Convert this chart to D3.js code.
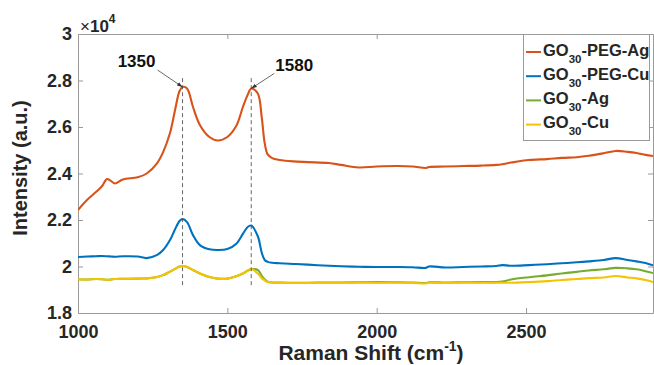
<!DOCTYPE html>
<html>
<head>
<meta charset="utf-8">
<script src="https://cdn.jsdelivr.net/npm/d3@7"></script>
<style>
  html, body { margin: 0; padding: 0; background: #fff; }
  svg { display: block; font-family: "Liberation Sans", Arial, sans-serif; }
</style>
</head>
<body>
<svg id="chart" width="654" height="365"></svg>
<script>
// Raman shift (cm^-1) sample positions
const shift = [1000, 1030, 1060, 1080, 1097, 1110, 1124, 1150, 1200, 1230, 1265, 1285, 1308, 1325, 1340, 1350, 1365, 1385, 1408, 1440, 1468, 1500, 1530, 1552, 1568, 1580, 1602, 1615, 1625, 1635, 1650, 1675, 1720, 1770, 1840, 1880, 1940, 2000, 2070, 2120, 2165, 2175, 2230, 2290, 2350, 2400, 2420, 2450, 2510, 2570, 2620, 2670, 2710, 2760, 2800, 2840, 2870, 2900, 2925];

// Intensities in units of 10^4 (a.u.)
const goPegAg = [2.243, 2.286, 2.320, 2.345, 2.376, 2.368, 2.357, 2.374, 2.384, 2.400, 2.445, 2.492, 2.574, 2.673, 2.755, 2.772, 2.766, 2.686, 2.609, 2.557, 2.542, 2.557, 2.605, 2.686, 2.738, 2.766, 2.744, 2.643, 2.531, 2.482, 2.466, 2.458, 2.452, 2.449, 2.445, 2.437, 2.426, 2.430, 2.432, 2.430, 2.424, 2.428, 2.430, 2.432, 2.434, 2.437, 2.440, 2.447, 2.458, 2.462, 2.467, 2.470, 2.476, 2.487, 2.497, 2.493, 2.488, 2.480, 2.475];
const goPegCu = [2.041, 2.043, 2.044, 2.045, 2.044, 2.043, 2.042, 2.044, 2.043, 2.036, 2.050, 2.071, 2.114, 2.160, 2.196, 2.204, 2.191, 2.135, 2.092, 2.074, 2.071, 2.075, 2.098, 2.140, 2.170, 2.176, 2.130, 2.060, 2.028, 2.020, 2.016, 2.014, 2.011, 2.008, 2.003, 2.001, 1.999, 1.998, 1.998, 1.997, 1.994, 2.000, 1.996, 1.998, 2.000, 2.002, 2.006, 2.003, 2.006, 2.010, 2.014, 2.018, 2.022, 2.028, 2.036, 2.028, 2.022, 2.015, 2.005];
const goAg = [1.945, 1.944, 1.946, 1.945, 1.943, 1.944, 1.946, 1.947, 1.948, 1.949, 1.955, 1.963, 1.978, 1.990, 2.000, 2.002, 1.998, 1.985, 1.970, 1.955, 1.948, 1.948, 1.958, 1.970, 1.982, 1.988, 1.985, 1.960, 1.945, 1.935, 1.931, 1.931, 1.930, 1.930, 1.931, 1.931, 1.932, 1.933, 1.932, 1.931, 1.929, 1.932, 1.931, 1.932, 1.933, 1.933, 1.935, 1.944, 1.954, 1.962, 1.970, 1.977, 1.983, 1.988, 1.994, 1.992, 1.988, 1.980, 1.972];
const goCu = [1.945, 1.944, 1.946, 1.945, 1.943, 1.944, 1.946, 1.947, 1.948, 1.949, 1.955, 1.963, 1.978, 1.990, 2.000, 2.002, 1.998, 1.985, 1.970, 1.955, 1.948, 1.948, 1.958, 1.970, 1.983, 1.989, 1.970, 1.950, 1.940, 1.933, 1.930, 1.930, 1.929, 1.929, 1.930, 1.930, 1.930, 1.930, 1.930, 1.929, 1.927, 1.930, 1.929, 1.930, 1.930, 1.930, 1.930, 1.930, 1.933, 1.937, 1.942, 1.946, 1.950, 1.953, 1.959, 1.953, 1.949, 1.942, 1.933];

const seriesNames = ["GO30-PEG-Ag", "GO30-PEG-Cu", "GO30-Ag", "GO30-Cu"];
const seriesValues = [goPegAg, goPegCu, goAg, goCu];
const seriesColors = ["#D95319", "#0072BD", "#77AC30", "#F5C400"];

const xTicks = [1000, 1500, 2000, 2500];
const yTicks = [1.8, 2, 2.2, 2.4, 2.6, 2.8, 3];
const yTickLabels = ["1.8", "2", "2.2", "2.4", "2.6", "2.8", "3"];

// Peak markers: position, label, and the y-span of the guide line (10^4 units)
const peakShift = [1350, 1580];
const peakLabel = ["1350", "1580"];
const peakTop = [2.772, 2.766];
const guideSpan = [1.92, 2.81];

const svg = d3.select("#chart");
const M = { left: 78, right: 653, top: 34, bottom: 313 };
const axisColor = "#9a9a9a";
const textColor = "#262626";

const x = d3.scaleLinear().domain([1000, 2925]).range([M.left, M.right]);
const y = d3.scaleLinear().domain([1.8, 3]).range([M.bottom, M.top]);

// Axes with inward ticks
const gx = svg.append("g").attr("transform", `translate(0,${M.bottom})`)
  .call(d3.axisBottom(x).tickValues(xTicks).tickSizeInner(-5).tickSizeOuter(0).tickPadding(12).tickFormat(d3.format("d")));
const gy = svg.append("g").attr("transform", `translate(${M.left},0)`)
  .call(d3.axisLeft(y).tickValues(yTicks).tickSizeInner(-5).tickSizeOuter(0).tickPadding(6).tickFormat((d, i) => yTickLabels[i]));
const gt = svg.append("g").attr("transform", `translate(0,${M.top})`)
  .call(d3.axisTop(x).tickValues(xTicks).tickSizeInner(-5).tickSizeOuter(0).tickFormat(""));
const gr = svg.append("g").attr("transform", `translate(${M.right},0)`)
  .call(d3.axisRight(y).tickValues(yTicks).tickSizeInner(-5).tickSizeOuter(0).tickFormat(""));

[gx, gy, gt, gr].forEach(g => {
  g.select(".domain").attr("stroke", axisColor).attr("stroke-width", 1);
  g.selectAll(".tick line").attr("stroke", axisColor);
  g.selectAll(".tick text").attr("fill", textColor)
    .style("font-size", "18px").style("font-weight", "bold")
    .style("font-family", "'Liberation Sans', Arial, sans-serif");
});
gx.selectAll(".tick text").attr("dy", "0.71em");

// Exponent label
const expo = svg.append("text").attr("x", 80).attr("y", 32)
  .attr("fill", textColor).style("font-size", "17px");
expo.append("tspan").style("font-weight", "normal").text("×");
expo.append("tspan").style("font-weight", "bold").text("10");
expo.append("tspan").attr("dy", -9).style("font-size", "12px").style("font-weight", "bold").text("4");

// Axis titles
const xt = svg.append("text").attr("x", 371).attr("y", 360).attr("text-anchor", "middle")
  .attr("fill", textColor).style("font-size", "21px").style("font-weight", "bold");
xt.append("tspan").text("Raman Shift (cm");
xt.append("tspan").attr("dy", -9).style("font-size", "14px").text("-1");
xt.append("tspan").attr("dy", 9).text(")");

svg.append("text").attr("transform", "translate(27,168) rotate(-90)").attr("text-anchor", "middle")
  .attr("fill", textColor).style("font-size", "20px").style("font-weight", "bold")
  .text("Intensity (a.u.)");

// Plot clip
svg.append("clipPath").attr("id", "plotClip").append("rect")
  .attr("x", M.left).attr("y", M.top).attr("width", M.right - M.left).attr("height", M.bottom - M.top);

const line = d3.line().x((d, i) => x(shift[i])).y(d => y(d)).curve(d3.curveCatmullRom.alpha(0.5));

const plot = svg.append("g").attr("clip-path", "url(#plotClip)");
seriesValues.forEach((vals, k) => {
  plot.append("path").datum(vals)
    .attr("d", line)
    .attr("fill", "none")
    .attr("stroke", seriesColors[k])
    .attr("stroke-width", 2.1)
    .attr("stroke-linejoin", "round");
});

// Dashed guide lines at the D and G bands
peakShift.forEach(p => {
  plot.append("line")
    .attr("x1", x(p)).attr("x2", x(p))
    .attr("y1", y(guideSpan[1])).attr("y2", y(guideSpan[0]))
    .attr("stroke", "#555").attr("stroke-width", 0.9).attr("stroke-dasharray", "4,3");
});

// Arrow annotations
svg.append("defs").append("marker")
  .attr("id", "arrowHead").attr("viewBox", "0 0 10 10")
  .attr("refX", 10).attr("refY", 5).attr("markerWidth", 7).attr("markerHeight", 7)
  .attr("orient", "auto")
  .append("path").attr("d", "M0,1.5 L10,5 L0,8.5 Z").attr("fill", "#333");

const arrowTail = [[-25, -17], [23, -15]];
const labelOffset = [[-46, -20], [43, -17]];
peakShift.forEach((p, i) => {
  const tx = x(p), ty = y(peakTop[i]);
  svg.append("line")
    .attr("x1", tx + arrowTail[i][0]).attr("y1", ty + arrowTail[i][1])
    .attr("x2", tx).attr("y2", ty)
    .attr("stroke", "#444").attr("stroke-width", 0.8)
    .attr("marker-end", "url(#arrowHead)");
  svg.append("text")
    .attr("x", tx + labelOffset[i][0]).attr("y", ty + labelOffset[i][1])
    .attr("text-anchor", "middle").attr("fill", "#111")
    .style("font-size", "17px").style("font-weight", "bold")
    .text(peakLabel[i]);
});

// Legend
const lg = svg.append("g");
lg.append("rect").attr("x", 523.5).attr("y", 34.5).attr("width", 126).attr("height", 106)
  .attr("fill", "#fff").attr("stroke", axisColor).attr("stroke-width", 1);
seriesNames.forEach((name, i) => {
  const base = 55.5 + i * 24.2;
  lg.append("line").attr("x1", 526).attr("x2", 541)
    .attr("y1", base - 3.5).attr("y2", base - 3.5)
    .attr("stroke", seriesColors[i]).attr("stroke-width", 2);
  const t = lg.append("text").attr("x", 543).attr("y", base)
    .attr("fill", textColor).style("font-size", "16.5px").style("font-weight", "bold");
  t.append("tspan").text(name.slice(0, 2));
  t.append("tspan").attr("dy", 7).style("font-size", "11.5px").text(name.slice(2, 4));
  t.append("tspan").attr("dy", -7).text(name.slice(4));
});
</script>
</body>
</html>
